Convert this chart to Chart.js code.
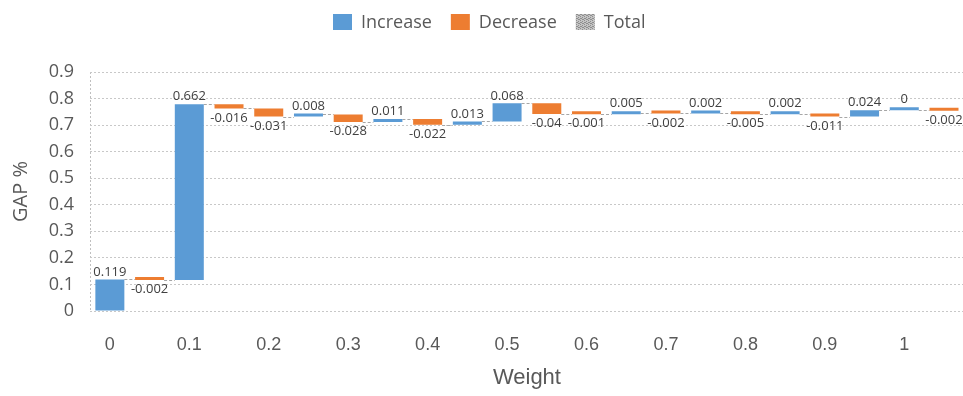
<!DOCTYPE html>
<html>
<head>
<meta charset="utf-8">
<title>GAP % by Weight</title>
<script src="https://cdn.jsdelivr.net/npm/chart.js@4/dist/chart.umd.min.js"></script>
<style>
  html, body { margin: 0; padding: 0; background: #fff; overflow: hidden; }
  #wrap { position: relative; width: 967px; height: 396px; }
</style>
</head>
<body>
<div id="wrap"><canvas id="chart"></canvas></div>
<script>
// Categories along the x axis: each weight step is followed by an unlabeled in-between slot
const categories = ['0', '', '0.1', '', '0.2', '', '0.3', '', '0.4', '', '0.5', '',
                    '0.6', '', '0.7', '', '0.8', '', '0.9', '', '1', ''];

// Change in GAP % contributed by each step
const changes = [0.119, -0.002, 0.662, -0.016, -0.031, 0.008, -0.028, 0.011, -0.022, 0.013,
                 0.068, -0.04, -0.001, 0.005, -0.002, 0.002, -0.005, 0.002, -0.011, 0.024,
                 0, -0.002];

const seriesNames = ['Increase', 'Decrease', 'Total'];
const yTitle = 'GAP %';
const xTitle = 'Weight';

const BLUE = '#5B9BD5';
const ORANGE = '#ED7D31';
const TEXT = '#595959';
const FONT = '"Open Sans", "DejaVu Sans", sans-serif';
const AXISFONT = '"Liberation Sans", Arial, sans-serif';

// Running level: every bar floats from the previous total to the new one
const r3 = v => Math.round(v * 1000) / 1000;
let level = 0;
const spans = changes.map(v => { const from = level; level = r3(level + v); return [from, level]; });
const increase = spans.map((s, i) => (changes[i] >= 0 ? s : null));
const decrease = spans.map((s, i) => (changes[i] < 0 ? s : null));

// Grey stippled fill used for the "Total" series swatch
function makeStipple() {
  const c = document.createElement('canvas');
  c.width = 4; c.height = 4;
  const g = c.getContext('2d');
  g.fillStyle = '#C4C4C4'; g.fillRect(0, 0, 4, 4);
  g.fillStyle = '#8E8E8E';
  [[0, 0], [2, 1], [1, 2], [3, 3], [2, 3], [0, 2]].forEach(([x, y]) => g.fillRect(x, y, 1, 1));
  return g.createPattern(c, 'repeat');
}

const ctx = document.getElementById('chart').getContext('2d');
const stipple = makeStipple();

function barAt(chart, i) {
  const di = changes[i] >= 0 ? 0 : 1;
  return chart.getDatasetMeta(di).data[i];
}

// Dashed connectors joining the end of one step to the start of the next
const connectors = {
  id: 'connectors',
  beforeDatasetsDraw(chart) {
    const { ctx } = chart;
    const y = chart.scales.y;
    ctx.save();
    ctx.strokeStyle = '#A6A6A6';
    ctx.lineWidth = 1;
    ctx.setLineDash([3, 2]);
    for (let i = 0; i < spans.length - 1; i++) {
      const a = barAt(chart, i), b = barAt(chart, i + 1);
      const py = Math.round(y.getPixelForValue(spans[i][1])) + 0.5;
      ctx.beginPath();
      ctx.moveTo(a.x + a.width / 2, py);
      ctx.lineTo(b.x - b.width / 2, py);
      ctx.stroke();
    }
    ctx.restore();
  }
};

// Value labels: above rising bars, below falling bars
const valueLabels = {
  id: 'valueLabels',
  afterDatasetsDraw(chart) {
    const { ctx } = chart;
    ctx.save();
    ctx.font = '13px ' + FONT;
    ctx.fillStyle = '#404040';
    ctx.textAlign = 'center';
    changes.forEach((v, i) => {
      const bar = barAt(chart, i);
      const top = Math.min(bar.y, bar.base), bottom = Math.max(bar.y, bar.base);
      if (v >= 0) {
        ctx.textBaseline = 'bottom';
        ctx.fillText(String(v), bar.x, top - 1);
      } else {
        ctx.textBaseline = 'top';
        ctx.fillText(String(v), bar.x, bottom + 3);
      }
    });
    ctx.restore();
  }
};

// Legend row across the top
const legendRow = {
  id: 'legendRow',
  afterDraw(chart) {
    const { ctx } = chart;
    const boxW = 19, boxH = 16, gap = 9, spacing = 19, cy = 22;
    ctx.save();
    ctx.font = '18px ' + FONT;
    ctx.textBaseline = 'middle';
    ctx.textAlign = 'left';
    const items = chart.data.datasets.map(d => ({
      text: d.label, fill: d.backgroundColor, w: ctx.measureText(d.label).width
    }));
    const total = items.reduce((s, it) => s + boxW + gap + it.w, 0) + spacing * (items.length - 1);
    let x = Math.round(489 - total / 2);
    items.forEach(it => {
      ctx.fillStyle = it.fill;
      ctx.fillRect(x, cy - boxH / 2, boxW, boxH);
      x += boxW + gap;
      ctx.fillStyle = TEXT;
      ctx.fillText(it.text, x, cy + 1);
      x += it.w + spacing;
    });
    ctx.restore();
  }
};

new Chart(ctx, {
  type: 'bar',
  data: {
    labels: categories,
    datasets: [
      { label: seriesNames[0], data: increase, backgroundColor: BLUE },
      { label: seriesNames[1], data: decrease, backgroundColor: ORANGE },
      { label: seriesNames[2], data: categories.map(() => null), backgroundColor: stipple }
    ]
  },
  options: {
    responsive: true,
    maintainAspectRatio: false,
    animation: false,
    layout: { padding: { top: 72, left: 0, right: 0, bottom: 0 } },
    datasets: {
      bar: { grouped: false, barPercentage: 1, categoryPercentage: 0.73, minBarLength: 3 }
    },
    plugins: { legend: { display: false }, tooltip: { enabled: false } },
    scales: {
      x: {
        grid: {
          drawTicks: false,
          lineWidth: 1,
          color: c => (c.index === 0 ? '#BFBFBF' : 'rgba(0,0,0,0)')
        },
        border: { display: false, dash: [2, 2] },
        ticks: {
          autoSkip: false, maxRotation: 0, minRotation: 0, padding: 23,
          color: TEXT, font: { family: AXISFONT, size: 18 }
        },
        title: {
          display: true, text: xTitle, color: TEXT,
          font: { family: AXISFONT, size: 22 }, padding: { top: 0, bottom: 5 }
        },
        afterFit(scale) { scale.height = 85; }
      },
      y: {
        min: 0, max: 0.9,
        grid: { drawTicks: false, color: '#C8C8C8', lineWidth: 1 },
        border: { display: false, dash: [2, 2] },
        ticks: {
          stepSize: 0.1, padding: 16, color: TEXT,
          font: { family: FONT, size: 18 },
          callback: v => String(+v.toFixed(1))
        },
        title: {
          display: true, text: yTitle, color: TEXT,
          font: { family: FONT, size: 20 }, padding: { top: 9, bottom: 0 }
        },
        afterFit(scale) { scale.width = 90; }
      }
    }
  },
  plugins: [connectors, valueLabels, legendRow]
});
</script>
</body>
</html>
